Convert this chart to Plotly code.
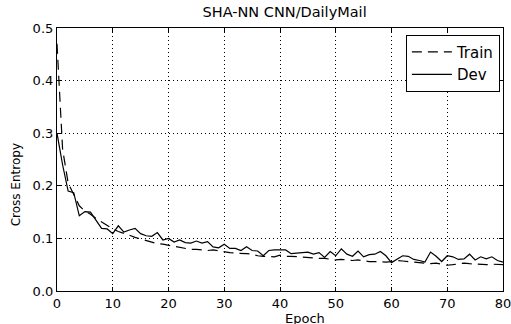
import plotly.graph_objects as go

epochs = list(range(0, 81))

train = [0.47, 0.27, 0.205, 0.185, 0.162, 0.152, 0.146, 0.138, 0.131, 0.125,
         0.118, 0.113, 0.110, 0.106, 0.102, 0.099, 0.096, 0.093, 0.090, 0.089,
         0.087, 0.086, 0.083, 0.081, 0.079, 0.079, 0.078, 0.077, 0.078, 0.076,
         0.074, 0.073, 0.072, 0.072, 0.071, 0.070, 0.067, 0.066, 0.065, 0.065,
         0.068, 0.066, 0.066, 0.065, 0.064, 0.063, 0.063, 0.062, 0.062, 0.061,
         0.059, 0.060, 0.059, 0.058, 0.059, 0.057, 0.056, 0.056, 0.055, 0.055,
         0.056, 0.058, 0.057, 0.056, 0.055, 0.055, 0.053, 0.052, 0.053, 0.051,
         0.049, 0.050, 0.052, 0.053, 0.052, 0.051, 0.051, 0.050, 0.051, 0.051,
         0.050]

dev = [0.30, 0.24, 0.19, 0.187, 0.143, 0.151, 0.150, 0.135, 0.119, 0.118,
       0.109, 0.124, 0.112, 0.116, 0.119, 0.109, 0.105, 0.104, 0.111, 0.097,
       0.100, 0.093, 0.097, 0.092, 0.091, 0.095, 0.091, 0.094, 0.084, 0.082,
       0.089, 0.081, 0.081, 0.077, 0.084, 0.077, 0.076, 0.067, 0.077, 0.078,
       0.078, 0.078, 0.071, 0.072, 0.074, 0.074, 0.070, 0.073, 0.064, 0.075,
       0.067, 0.080, 0.070, 0.066, 0.076, 0.065, 0.069, 0.070, 0.075, 0.067,
       0.054, 0.060, 0.067, 0.066, 0.060, 0.058, 0.055, 0.074, 0.066, 0.056,
       0.067, 0.065, 0.060, 0.061, 0.070, 0.059, 0.065, 0.061, 0.065, 0.058,
       0.055]

x_ticks = [0, 10, 20, 30, 40, 50, 60, 70, 80]
y_ticks = [0.0, 0.1, 0.2, 0.3, 0.4, 0.5]

FONT = "DejaVu Sans"

fig = go.Figure()
fig.add_trace(go.Scatter(x=epochs, y=train, mode="lines", name="Train",
                         line=dict(color="black", width=1.2, dash="10px,6px")))
fig.add_trace(go.Scatter(x=epochs, y=dev, mode="lines", name="Dev",
                         line=dict(color="black", width=1.2)))

axis_common = dict(
    showline=True, linecolor="black", linewidth=1.2, mirror="ticks",
    ticks="inside", ticklen=4, tickcolor="black", tickwidth=1,
    showgrid=True, gridcolor="black", gridwidth=1, griddash="1px,3px",
    zeroline=False, automargin=False, ticklabeloverflow="allow",
    tickfont=dict(family=FONT, size=13, color="black"),
)

fig.update_xaxes(range=[0, 80], tickvals=x_ticks, **axis_common)
fig.update_yaxes(range=[0, 0.5], tickvals=y_ticks, tickformat=".1f", **axis_common)

fig.update_layout(
    width=511, height=324,
    margin=dict(l=57, r=8, t=28, b=33, autoexpand=False),
    paper_bgcolor="white", plot_bgcolor="white",
    font=dict(family=FONT, color="black"),
    title=dict(text="SHA-NN CNN/DailyMail", x=0.557, xanchor="center",
               y=0.962, yanchor="middle", font=dict(family=FONT, size=14.5, color="black")),
    legend=dict(x=0.993, y=0.975, xanchor="right", yanchor="top",
                bordercolor="black", borderwidth=1, bgcolor="white",
                font=dict(family=FONT, size=15, color="black"),
                itemwidth=40, tracegroupgap=0),
    showlegend=True,
    annotations=[
        dict(text="Cross Entropy", textangle=-90, xref="paper", yref="paper",
             x=-0.09, y=0.405, xanchor="center", yanchor="middle", showarrow=False,
             font=dict(family=FONT, size=12, color="black")),
        dict(text="Epoch", xref="paper", yref="paper",
             x=0.557, y=-0.07, xanchor="center", yanchor="top", showarrow=False,
             font=dict(family=FONT, size=13, color="black")),
    ],
)

fig.write_html("out.html", config={"displayModeBar": False},
               post_script="document.body.style.margin='0';document.body.style.overflow='hidden';")
